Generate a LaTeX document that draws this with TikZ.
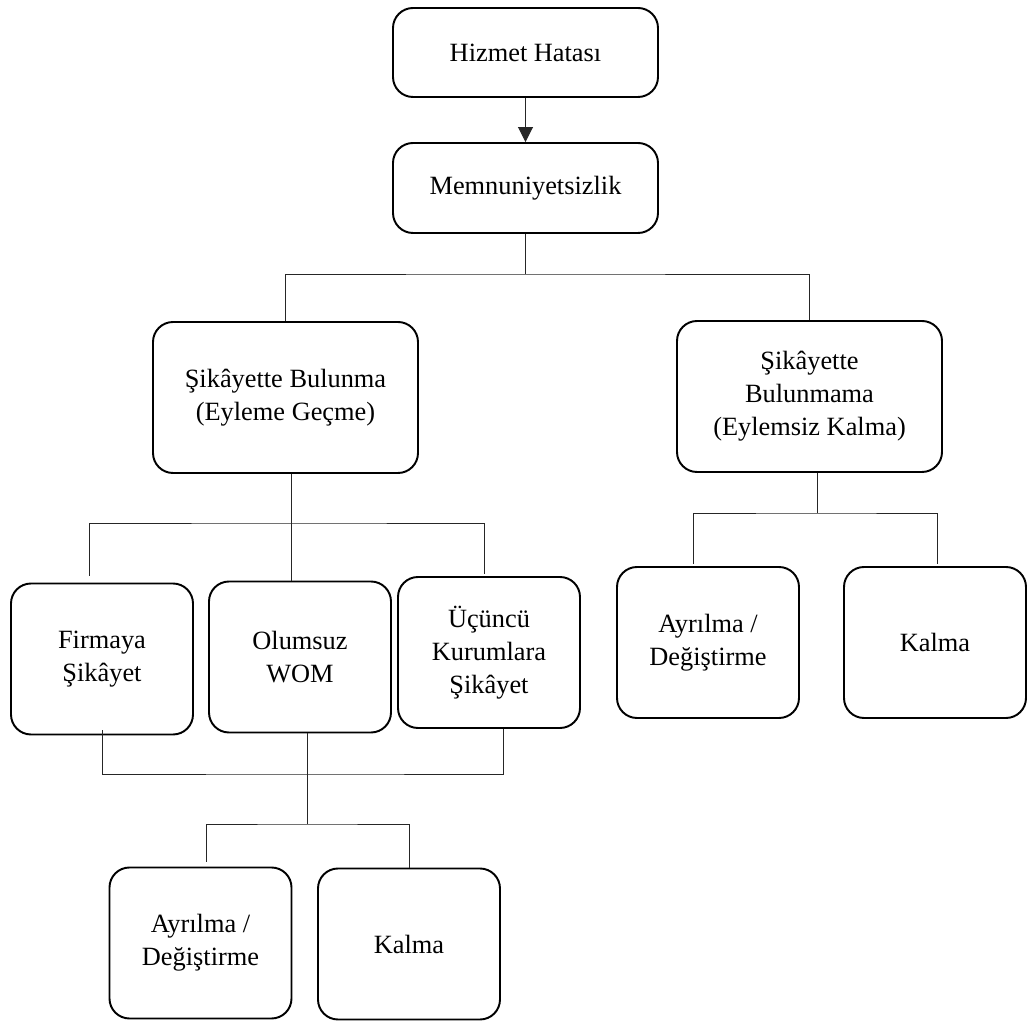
\documentclass[tikz,border=0pt]{standalone}
\usepackage{fontspec}
\setmainfont{Liberation Serif}
\usetikzlibrary{arrows.meta}

\begin{document}
\begin{tikzpicture}[
	box/.style={draw, line width=1.1pt, rounded corners=0.4cm, align=center, inner sep=0pt, font=\fontsize{15}{18.8}\selectfont},
	bigbox/.style={box, minimum width=5.3cm},
	smallbox/.style={box, minimum width=3.64cm, minimum height=3.02cm},
	link/.style={line width=0.55pt, draw=black!85}
	]
			\useasboundingbox (0,0) rectangle (20.54,-20.42);
			% complaint behaviour tree
			\node[bigbox, minimum height=1.78cm] (hata) at (10.51,-1.05) {Hizmet Hatası};
			\node[bigbox, minimum height=1.8cm] (memnun) at (10.51,-3.76) {Memnuniyetsizlik};
			\node[bigbox, minimum height=3.02cm] (bulunma) at (5.71,-7.95) {Şikâyette Bulunma\\(Eyleme Geçme)};
			\node[bigbox, minimum height=3.02cm] (bulunmama) at (16.19,-7.93) {Şikâyette\\Bulunmama\\(Eylemsiz Kalma)};
			\node[smallbox] (firma) at (2.04,-13.18) {Firmaya\\Şikâyet};
			\node[smallbox] (wom) at (6.00,-13.14) {Olumsuz\\WOM};
			\node[smallbox] (ucuncu) at (9.78,-13.05) {Üçüncü\\Kurumlara\\Şikâyet};
			\node[smallbox] (ayrilA) at (4.01,-18.86) {Ayrılma /\\Değiştirme};
			\node[smallbox] (kalmaA) at (8.18,-18.88) {Kalma};
			\node[smallbox] (ayrilB) at (14.16,-12.85) {Ayrılma /\\Değiştirme};
			\node[smallbox] (kalmaB) at (18.70,-12.85) {Kalma};
			
			\coordinate (barA) at (10.48,-5.48);
			\coordinate (barB) at (5.82,-10.46);
			\coordinate (barC) at (6.14,-15.48);
			\coordinate (barD) at (6.14,-16.48);
			\coordinate (barE) at (16.34,-10.26);
			
			\draw[link, -{Triangle[length=0.3cm, width=0.3cm]}] (hata) -- (memnun);
			\draw[link] (memnun) -- (memnun |- barA);
			\draw[link] (bulunma.north) |- (barA) -| (bulunmama.north);
			\draw[link] (barB |- bulunma.south) -- (barB |- wom.north);
			\draw[link] ([xshift=-0.26cm, yshift=0.14cm]firma.north) |- (barB) -| ([xshift=-0.1cm, yshift=0.04cm]ucuncu.north);
			\draw[link] ([yshift=0.1cm]firma.south) |- (barC) -| ([xshift=0.28cm]ucuncu.south);
			\draw[link] (barC |- wom.south) -- (barD);
			\draw[link] ([xshift=0.12cm, yshift=0.1cm]ayrilA.north) |- (barD) -| (kalmaA.north);
			\draw[link] (barE |- bulunmama.south) -- (barE);
			\draw[link] ([xshift=-0.3cm, yshift=0.04cm]ayrilB.north) |- (barE) -| ([xshift=0.04cm, yshift=0.04cm]kalmaB.north);
	\end{tikzpicture}
\end{document}
